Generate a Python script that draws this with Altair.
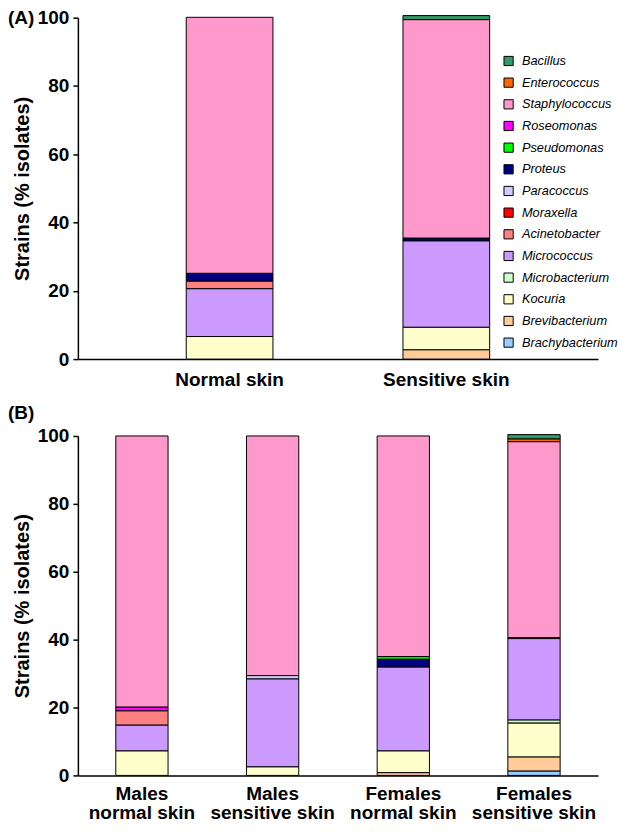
import altair as alt
import pandas as pd

genera = ["Bacillus", "Enterococcus", "Staphylococcus", "Roseomonas", "Pseudomonas",
          "Proteus", "Paracoccus", "Moraxella", "Acinetobacter", "Micrococcus",
          "Microbacterium", "Kocuria", "Brevibacterium", "Brachybacterium"]
colors = ["#339966", "#FF6600", "#FF99CC", "#FF00FF", "#00FF00",
          "#000080", "#CCCCFF", "#FF0000", "#FF8080", "#CC99FF",
          "#CCFFCC", "#FFFFCC", "#FFCC99", "#99CCFF"]

groups_a = ["Normal skin", "Sensitive skin"]
normal_skin = [0, 0, 75.0, 0, 0, 2.3, 0, 0, 2.2, 14.0, 0, 6.6, 0, 0]
sensitive_skin = [1.2, 0, 64.0, 0, 0, 0.8, 0, 0, 0, 25.3, 0, 6.6, 2.7, 0]

groups_b = ["Males|normal skin", "Males|sensitive skin",
            "Females|normal skin", "Females|sensitive skin"]
males_normal = [0, 0, 79.9, 1.1, 0, 0, 0, 0, 4.2, 7.6, 0, 7.2, 0, 0]
males_sensitive = [0, 0, 70.6, 0, 0, 0, 1.0, 0, 0, 25.9, 0, 2.5, 0, 0]
females_normal = [0, 0, 65.0, 0, 0.8, 2.3, 0, 0, 0, 24.7, 0, 6.4, 0.8, 0]
females_sensitive = [1.3, 0.8, 57.7, 0, 0, 0, 0.3, 0, 0, 24.0, 0.9, 10.0, 4.15, 1.25]


def frame(groups, series):
    rows = []
    for g, vals in zip(groups, series):
        for i, (gen, v) in enumerate(zip(genera, vals)):
            if v > 0:
                rows.append({"group": g, "genus": gen, "value": v,
                             "rank": len(genera) - 1 - i})
    return pd.DataFrame(rows)


df_a = frame(groups_a, [normal_skin, sensitive_skin])
df_b = frame(groups_b, [males_normal, males_sensitive, females_normal, females_sensitive])

FONT = "Liberation Sans"
W = 521


def y_enc():
    return alt.Y("value:Q", stack="zero",
                 scale=alt.Scale(domain=[0, 100], nice=False),
                 axis=alt.Axis(values=[0, 20, 40, 60, 80, 100], grid=False,
                               title="Strains (% isolates)", titleFontSize=20,
                               titleFontWeight="bold", titleFont=FONT, titlePadding=5,
                               titleColor="black",
                               labelFontSize=19, labelFontWeight="bold", labelFont=FONT,
                               labelColor="black", labelPadding=4,
                               tickSize=5, tickColor="black", tickWidth=1.5,
                               domainColor="black", domainWidth=1.5))


def x_axis(pad, label_expr=None):
    kw = dict(title=None, labelAngle=0, ticks=False, labelFontSize=19,
              labelFontWeight="bold", labelFont=FONT, labelColor="black",
              labelPadding=pad, domainColor="black", domainWidth=1.5)
    if label_expr:
        kw["labelExpr"] = label_expr
        kw["labelLineHeight"] = 19.5
    return alt.Axis(**kw)


fill_legend = alt.Legend(title=None, orient="none", legendX=425, legendY=37, padding=0,
                         symbolType="square", symbolSize=85, symbolStrokeColor="black",
                         symbolStrokeWidth=1, labelFont=FONT, labelFontSize=12.8,
                         labelFontStyle="italic", labelColor="black", labelOffset=7,
                         rowPadding=6.7)

bars_a = alt.Chart(df_a).mark_bar(stroke="black", strokeWidth=1).encode(
    x=alt.X("group:N", sort=groups_a,
            scale=alt.Scale(paddingInner=0.6, paddingOuter=0.5), axis=x_axis(11)),
    y=y_enc(),
    fill=alt.Fill("genus:N", scale=alt.Scale(domain=genera, range=colors),
                  legend=fill_legend),
    order=alt.Order("rank:Q", sort="ascending"),
)
label_a = alt.Chart(pd.DataFrame({"t": ["(A)"]})).mark_text(
    font=FONT, fontSize=19, fontWeight="bold", align="left", baseline="middle",
    color="black").encode(text="t:N", x=alt.value(-70), y=alt.value(0))
panel_a = alt.layer(bars_a, label_a).properties(width=W, height=342)

bars_b = alt.Chart(df_b).mark_bar(stroke="black", strokeWidth=1).encode(
    x=alt.X("group:N", sort=groups_b,
            scale=alt.Scale(paddingInner=0.6, paddingOuter=0.29),
            axis=x_axis(9, "split(datum.label, '|')")),
    y=y_enc(),
    fill=alt.Fill("genus:N", scale=alt.Scale(domain=genera, range=colors), legend=None),
    order=alt.Order("rank:Q", sort="ascending"),
)
label_b = alt.Chart(pd.DataFrame({"t": ["(B)"]})).mark_text(
    font=FONT, fontSize=19, fontWeight="bold", align="left", baseline="middle",
    color="black").encode(text="t:N", x=alt.value(-70), y=alt.value(-23))
panel_b = alt.layer(bars_b, label_b).properties(width=W, height=340)

chart = alt.vconcat(panel_a, panel_b, spacing=15).resolve_scale(
    fill="independent").resolve_legend(fill="independent").properties(
    padding=0).configure(background="white", view=alt.ViewConfig(stroke=None))

chart.save("out.html", embed_options={"renderer": "svg", "actions": False})
